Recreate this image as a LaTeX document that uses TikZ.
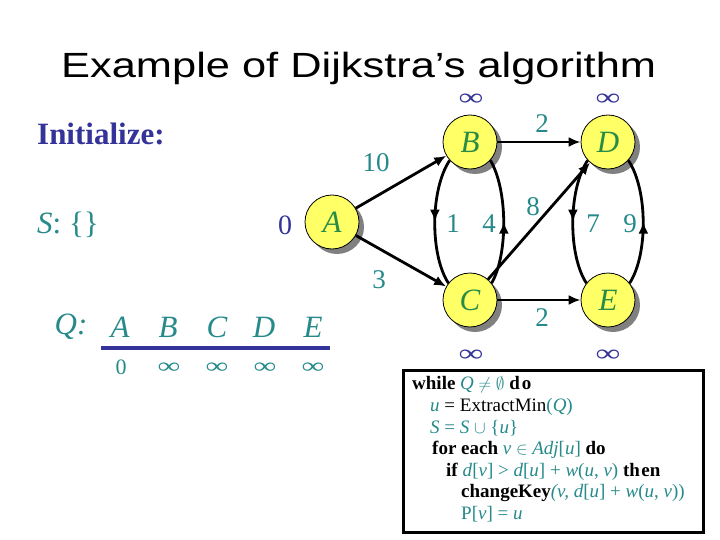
\documentclass[tikz,border=0pt]{standalone}
\usepackage{fontspec}
\setmainfont{Liberation Serif}
\newfontfamily\titlefont[FakeStretch=1.24]{Liberation Sans}
\usetikzlibrary{arrows.meta,decorations.markings,shadows}
\definecolor{teal2}{RGB}{38,138,138}
\definecolor{navy2}{RGB}{51,51,153}
\definecolor{nodegreen}{RGB}{40,140,70}
\definecolor{nodeyellow}{RGB}{255,255,102}
\newcommand{\infsym}{\scalebox{1.45}[1]{∞}}
\begin{document}
\begin{tikzpicture}[x=1pt,y=-1pt,
  vertex/.style={circle,draw=black,line width=0.8pt,fill=nodeyellow,minimum size=54pt,inner sep=0pt,
    font=\fontsize{31}{31}\selectfont\itshape,text=nodegreen,
    drop shadow={shadow xshift=5pt,shadow yshift=-5pt,fill=gray,opacity=1}},
  edge/.style={line width=2.8pt,-{Latex[length=12pt,width=10pt]}},
  loopedge/.style={line width=2.8pt,postaction={decorate},
    decoration={markings,mark=at position 0.5 with {\arrow{Latex[length=12pt,width=10pt]}}}},
  wlabel/.style={text=teal2,inner sep=0pt,font=\fontsize{27}{27}\selectfont},
  dlabel/.style={text=navy2,inner sep=0pt,font=\fontsize{24}{24}\selectfont},
  code/.style={anchor=base west,inner sep=0pt,font=\fontsize{19}{19}\selectfont},
  qtext/.style={text=teal2,inner sep=0pt,font=\fontsize{31}{31}\selectfont\itshape},
  qval/.style={text=teal2,inner sep=0pt,font=\fontsize{22}{22}\selectfont},
]
\useasboundingbox (0,0) rectangle (720,540);
\fill[white] (0,0) rectangle (720,540);

% title
\node[anchor=base west,inner sep=0pt,font=\titlefont\fontsize{35}{35}\selectfont] (title) at (61,78) {Example of Dijkstra’s algorithm};

% left texts
\node[anchor=west,inner sep=0pt,text=navy2,font=\fontsize{31}{31}\selectfont\bfseries] (init) at (37,134) {Initialize:};
\node[anchor=west,inner sep=0pt,text=teal2,font=\fontsize{31}{31}\selectfont] (S) at (37,225) {\textit{S}: \{\}};

% Q row
\node[qtext] (Q) at (71,327) {Q:};
\node[qtext] (qA) at (120,327) {A};
\node[qtext] (qB) at (168,327) {B};
\node[qtext] (qC) at (217,327) {C};
\node[qtext] (qD) at (264,327) {D};
\node[qtext] (qE) at (313,327) {E};
\coordinate (ql) at (101,348);
\coordinate (qr) at (330,348);
\draw[navy2,line width=3.5pt] (ql) -- (qr);
\node[qval] (vA) at (121,367) {0};
\node[qval] (vB) at (169,368) {\infsym};
\node[qval] (vC) at (217,368) {\infsym};
\node[qval] (vD) at (265,368) {\infsym};
\node[qval] (vE) at (313,368) {\infsym};

% graph nodes
\node[vertex] (A) at (332,222) {A};
\node[vertex] (B) at (470,142) {B};
\node[vertex] (C) at (470,300) {C};
\node[vertex] (D) at (608,142) {D};
\node[vertex] (E) at (608,300) {E};

% edges
\draw[edge] (A) -- (B);
\draw[edge] (A) -- (C);
\draw[edge] (B) -- (D);
\draw[edge] (C) -- (E);
\draw[edge] (C) -- (D);
\draw[loopedge] (B.222) .. controls (430,190) and (430,255) .. (C.142);
\draw[loopedge] (C.38) .. controls (508,255) and (508,190) .. (B.318);
\draw[loopedge] (D.222) .. controls (568,190) and (568,255) .. (E.142);
\draw[loopedge] (E.38) .. controls (648,255) and (648,190) .. (D.318);

% weights
\node[wlabel] (w10) at (376,163) {10};
\node[wlabel] (w3) at (379,280) {3};
\node[wlabel] (w2a) at (542,124) {2};
\node[wlabel] (w2b) at (542,318) {2};
\node[wlabel] (w8) at (533,207) {8};
\node[wlabel] (w1) at (453,224) {1};
\node[wlabel] (w4) at (489,224) {4};
\node[wlabel] (w7) at (593,224) {7};
\node[wlabel] (w9) at (630,224) {9};

% distances
\node[dlabel,font=\fontsize{28}{28}\selectfont] (dA) at (285,225) {0};
\node[dlabel] (dB) at (471,100) {\infsym};
\node[dlabel] (dD) at (608,100) {\infsym};
\node[dlabel] (dC) at (471,356) {\infsym};
\node[dlabel] (dE) at (608,356) {\infsym};

% code box
\draw[line width=3pt] (403,370) rectangle (703,532);
\node[code] (l1) at (412,389) {\textbf{while} \textcolor{teal2}{\textit{Q} $\neq\emptyset$} \textbf{d\hspace{2pt}o}};
\node[code] (l2) at (430,411) {\textcolor{teal2}{\textit{u}} = ExtractMin\textcolor{teal2}{(\textit{Q})}};
\node[code] (l3) at (430,433) {\textcolor{teal2}{\textit{S} = \textit{S} $\cup$ \{\textit{u}\}}};
\node[code] (l4) at (432,454) {\textbf{for each} \textcolor{teal2}{\textit{v} $\in$ \textit{Adj}[\textit{u}]} \textbf{do}};
\node[code] (l5) at (446,476) {\textbf{if} \textcolor{teal2}{\textit{d}[\textit{v}] > \textit{d}[\textit{u}] + \textit{w}(\textit{u}, \textit{v})} \textbf{th\hspace{1.5pt}en}};
\node[code] (l6) at (461,497) {\textbf{changeKey}\textcolor{teal2}{\textit{(v,} \textit{d}[\textit{u}] + \textit{w}(\textit{u}, \textit{v}))}};
\node[code] (l7) at (461,519) {\textcolor{teal2}{P[\textit{v}] = \textit{u}}};
\end{tikzpicture}
\end{document}
